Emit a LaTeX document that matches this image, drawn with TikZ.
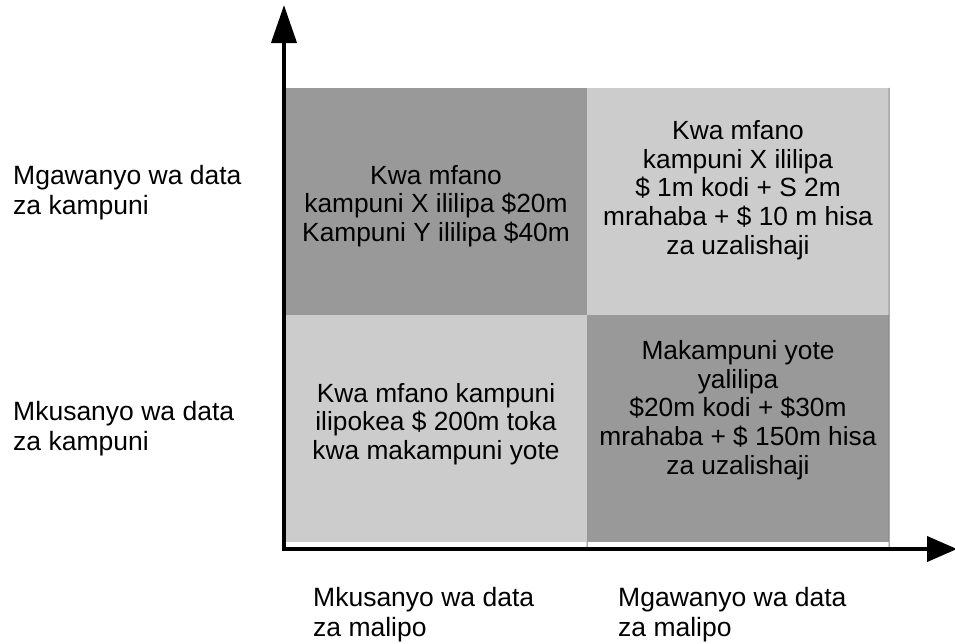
\documentclass[tikz,border=0pt]{standalone}
\usepackage{fontspec}
\setmainfont{Liberation Sans}
\usetikzlibrary{arrows.meta}
\definecolor{qdark}{HTML}{999999}
\definecolor{qlight}{HTML}{CCCCCC}
\definecolor{gridline}{HTML}{808080}
\begin{document}
\begin{tikzpicture}[x=1pt,y=-1pt,
  quad/.style={rectangle,draw=none,inner sep=0pt,minimum width=302pt,minimum height=227pt},
  qtext/.style={align=center,inner sep=0pt,font=\fontsize{26.3}{28.7}\selectfont},
  side/.style={align=left,inner sep=0pt,anchor=west,font=\fontsize{26.5}{29.8}\selectfont},
  axis/.style={line width=4pt,-{Triangle[length=38pt,width=25pt]}}]
\useasboundingbox (0,0) rectangle (955,643);
% quadrants
\node[quad,fill=qdark]  (q11) at (436,201.5) {};
\node[quad,fill=qlight] (q12) at (738,201.5) {};
\node[quad,fill=qlight] (q21) at (436,428.5) {};
\node[quad,fill=qdark]  (q22) at (738,428.5) {};
% texts
\node[qtext] (t11) at (436,206) {Kwa mfano\\ kampuni X ililipa \$20m\\Kampuni Y ililipa \$40m};
\node[qtext] (t12) at (738,190) {Kwa mfano\\kampuni X ililipa\\\$ 1m kodi + S 2m\\mrahaba + \$ 10 m hisa\\za uzalishaji};
\node[qtext] (t21) at (436,424) {Kwa mfano kampuni\\ilipokea \$ 200m toka\\kwa makampuni yote};
\node[qtext] (t22) at (738,410) {Makampuni yote\\yalilipa\\\$20m kodi + \$30m\\mrahaba + \$ 150m hisa\\za uzalishaji};
% side labels
\node[side] (l1) at (13,193) {Mgawanyo wa data\\za kampuni};
\node[side] (l2) at (13,429) {Mkusanyo wa data\\za kampuni};
\node[side] (b1) at (313,615) {Mkusanyo wa data\\za malipo};
\node[side] (b2) at (618,615) {Mgawanyo wa data\\za malipo};
% thin grid lines
\coordinate (gm) at (587,548);
\coordinate (gr) at (889,548);
\draw[gridline,line width=1pt] (q21.south east) -- (gm);
\draw[gridline,line width=1pt] (q12.north east) -- (gr);
% axes
\coordinate (Ocorner) at (284,551);
\coordinate (xstart) at (282,549);
\coordinate (ytip) at (284,5);
\coordinate (xtip) at (957,549);
\draw[axis] (Ocorner) -- (ytip);
\draw[axis,-{Triangle[length=30pt,width=25pt]}] (xstart) -- (xtip);
\end{tikzpicture}
\end{document}
